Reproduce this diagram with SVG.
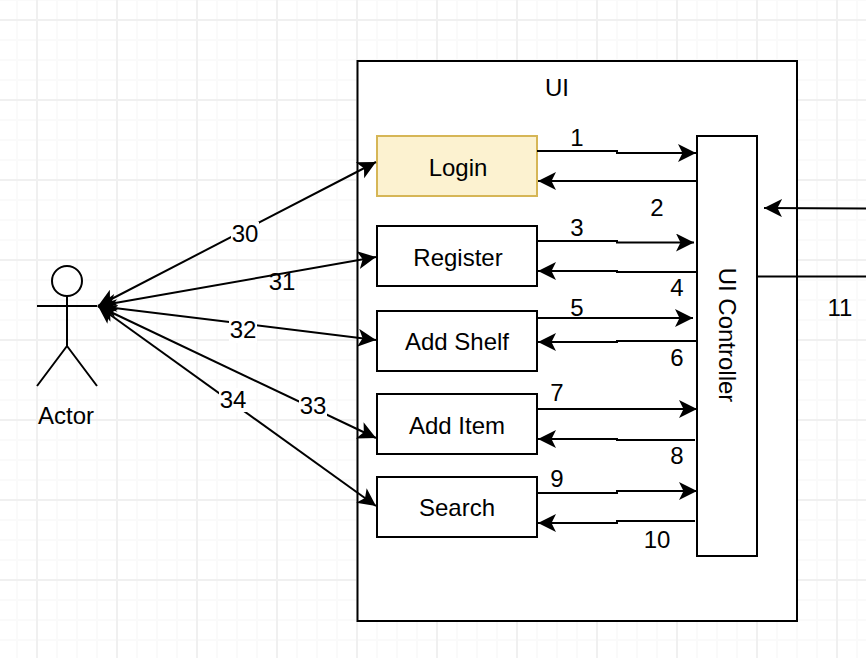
<svg xmlns="http://www.w3.org/2000/svg" width="866" height="658" viewBox="0 0 866 658">
<style>
.b{fill:#fff;stroke:#000;stroke-width:2}
.l{fill:none;stroke:#000;stroke-width:2}
.c{fill:none;stroke:#000;stroke-width:2;marker-end:url(#a)}
.d{fill:none;stroke:#000;stroke-width:2;marker-start:url(#s);marker-end:url(#a)}
text{font-family:"Liberation Sans",Arial,sans-serif;font-size:24px;fill:#000;text-anchor:middle}
.lb{fill:#fff}
</style>
<defs>
<marker id="a" markerUnits="userSpaceOnUse" markerWidth="20" markerHeight="20" refX="18" refY="9" orient="auto"><path d="M0 0L18 9L0 18L4.500 9Z" fill="#000"/></marker>
<marker id="s" markerUnits="userSpaceOnUse" markerWidth="20" markerHeight="20" refX="0" refY="9" orient="auto"><path d="M18 0L0 9L18 18L13.500 9Z" fill="#000"/></marker>
<pattern id="g" width="80" height="80" patternUnits="userSpaceOnUse" x="-44" y="-61">
<path d="M21 0V80M41 0V80M61 0V80M0 21H80M0 41H80M0 61H80" stroke="#fafafa" stroke-width="2" fill="none"/>
<path d="M1 0V80M0 1H80" stroke="#f0f0f0" stroke-width="2" fill="none"/>
</pattern>
</defs>
<rect width="866" height="658" fill="#fff"/>
<rect width="866" height="658" fill="url(#g)"/>
<g id="ui"><rect class="b" x="357.500" y="61" width="439.500" height="560"/><text x="557" y="96">UI</text></g>
<g id="login"><rect x="377" y="136" width="160" height="60" fill="#fcf2d0" stroke="#d6b656" stroke-width="2"/><text x="458" y="176">Login</text></g>
<g id="register"><rect class="b" x="377" y="226" width="160" height="60"/><text x="458" y="266">Register</text></g>
<g id="add-shelf"><rect class="b" x="377" y="311" width="160" height="60"/><text x="457" y="350">Add Shelf</text></g>
<g id="add-item"><rect class="b" x="377" y="394" width="160" height="60"/><text x="457" y="434">Add Item</text></g>
<g id="search"><rect class="b" x="377" y="477" width="160" height="60"/><text x="457" y="516">Search</text></g>
<g id="ui-controller"><rect class="b" x="697" y="136" width="60" height="420"/><text transform="translate(727 335) rotate(90)" y="0" dy="8">UI Controller</text></g>
<g id="actor"><circle class="b" cx="67" cy="281" r="15"/><path class="l" d="M67 296V346M37 306H97M67 346L37 386M67 346L97 386"/><text x="66" y="424">Actor</text></g>
<g id="connectors">
<path class="c" d="M537 151H617V153H696"/>
<path class="c" d="M697 181H538"/>
<path class="c" d="M537 241H617V242.500H694"/>
<path class="c" d="M697 272H617V271H538"/>
<path class="c" d="M537 318H693"/>
<path class="c" d="M697 341H617V342H538"/>
<path class="c" d="M537 409H697"/>
<path class="c" d="M695 440H617V439H538"/>
<path class="c" d="M537 493H617V491H697"/>
<path class="c" d="M695 521H617V523H538"/>
<path class="c" d="M866 208.500L764 208"/>
<path class="l" d="M757 276.500H866"/>
<path class="d" d="M98 306L376 162"/>
<path class="d" d="M98 306L376 257"/>
<path class="d" d="M98 306L376 340"/>
<path class="d" d="M98 306L376 438"/>
<path class="d" d="M98 306L376 506"/>
</g>
<g id="labels">
<text x="577" y="146">1</text>
<text x="657" y="216">2</text>
<text x="577" y="236">3</text>
<text x="677" y="296">4</text>
<text x="577" y="316">5</text>
<text x="677" y="366">6</text>
<text x="557" y="401">7</text>
<text x="677" y="464">8</text>
<text x="557" y="487">9</text>
<text x="657" y="548">10</text>
<text x="840" y="316">11</text>
<rect class="lb" x="231" y="222" width="28" height="24"/><text x="245" y="242">30</text>
<text x="282" y="290">31</text>
<rect class="lb" x="229" y="319" width="28" height="24"/><text x="243" y="338">32</text>
<rect class="lb" x="299" y="395" width="28" height="24"/><text x="313" y="414">33</text>
<rect class="lb" x="219" y="388" width="28" height="24"/><text x="233" y="408">34</text>
</g>
</svg>
